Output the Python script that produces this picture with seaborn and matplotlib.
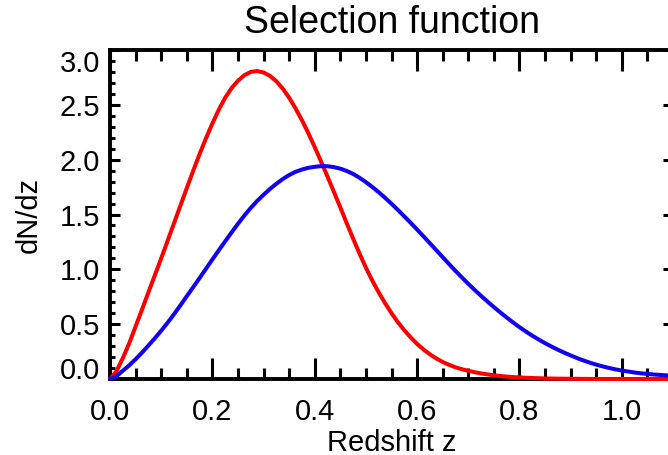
import matplotlib
matplotlib.use("Agg")
import matplotlib.pyplot as plt
import pandas as pd
import seaborn as sns
from matplotlib.ticker import MultipleLocator

# Redshift samples (step 0.0125) and the two selection functions dN/dz
z_grid = [0.0000, 0.0125, 0.0250, 0.0375, 0.0500, 0.0625, 0.0750, 0.0875,
          0.1000, 0.1125, 0.1250, 0.1375, 0.1500, 0.1625, 0.1750, 0.1875,
          0.2000, 0.2125, 0.2250, 0.2375, 0.2500, 0.2625, 0.2750, 0.2875,
          0.3000, 0.3125, 0.3250, 0.3375, 0.3500, 0.3625, 0.3750, 0.3875,
          0.4000, 0.4125, 0.4250, 0.4375, 0.4500, 0.4625, 0.4750, 0.4875,
          0.5000, 0.5125, 0.5250, 0.5375, 0.5500, 0.5625, 0.5750, 0.5875,
          0.6000, 0.6125, 0.6250, 0.6375, 0.6500, 0.6625, 0.6750, 0.6875,
          0.7000, 0.7125, 0.7250, 0.7375, 0.7500, 0.7625, 0.7750, 0.7875,
          0.8000, 0.8125, 0.8250, 0.8375, 0.8500, 0.8625, 0.8750, 0.8875,
          0.9000, 0.9125, 0.9250, 0.9375, 0.9500, 0.9625, 0.9750, 0.9875,
          1.0000, 1.0125, 1.0250, 1.0375, 1.0500, 1.0625, 1.0750, 1.0875,
          1.1000]

dndz_red = [0.000, 0.070, 0.190, 0.325, 0.480, 0.633, 0.790, 0.945,
            1.100, 1.260, 1.420, 1.580, 1.740, 1.898, 2.050, 2.195,
            2.330, 2.455, 2.565, 2.652, 2.720, 2.770, 2.800, 2.808,
            2.795, 2.764, 2.715, 2.648, 2.565, 2.468, 2.360, 2.242,
            2.115, 1.982, 1.845, 1.706, 1.565, 1.421, 1.280, 1.144,
            1.015, 0.897, 0.790, 0.691, 0.600, 0.518, 0.445, 0.379,
            0.320, 0.269, 0.225, 0.187, 0.155, 0.129, 0.107, 0.089,
            0.075, 0.062, 0.051, 0.042, 0.034, 0.0275, 0.022, 0.0177,
            0.014, 0.011, 0.009, 0.007, 0.005, 0.004, 0.003, 0.0025,
            0.002, 0.0015, 0.001, 0.0005, 0.000, 0.000, 0.000, 0.000,
            0.000, 0.000, 0.000, 0.000, 0.000, 0.000, 0.000, 0.000,
            0.000]

dndz_blue = [0.000, 0.025, 0.075, 0.124, 0.180, 0.240, 0.305, 0.371,
             0.440, 0.513, 0.590, 0.671, 0.755, 0.837, 0.920, 1.005,
             1.090, 1.173, 1.255, 1.336, 1.415, 1.490, 1.560, 1.623,
             1.680, 1.7325, 1.780, 1.823, 1.860, 1.889, 1.910, 1.9255,
             1.935, 1.941, 1.940, 1.932, 1.918, 1.897, 1.870, 1.835,
             1.795, 1.751, 1.703, 1.652, 1.598, 1.5415, 1.483, 1.424,
             1.363, 1.301, 1.238, 1.175, 1.111, 1.048, 0.986, 0.926,
             0.868, 0.812, 0.758, 0.706, 0.656, 0.6075, 0.561, 0.516,
             0.473, 0.433, 0.395, 0.360, 0.327, 0.296, 0.267, 0.240,
             0.215, 0.191, 0.169, 0.149, 0.131, 0.115, 0.101, 0.088,
             0.077, 0.068, 0.059, 0.052, 0.046, 0.041, 0.037, 0.033,
             0.030]

x_tick_values = [0.0, 0.2, 0.4, 0.6, 0.8, 1.0]
x_tick_labels = ["0.0", "0.2", "0.4", "0.6", "0.8", "1.0"]
y_tick_values = [0.0, 0.5, 1.0, 1.5, 2.0, 2.5, 3.0]
y_tick_labels = ["0.0", "0.5", "1.0", "1.5", "2.0", "2.5", "3.0"]

sns.set_style("white")
plt.rcParams["font.family"] = ["Liberation Sans", "DejaVu Sans"]
plt.rcParams["text.color"] = "black"
plt.rcParams["axes.labelcolor"] = "black"

fig = plt.figure(figsize=(6.68, 4.55), dpi=100)
# the right-hand frame edge sits just past the figure border
ax = fig.add_axes([110 / 668, 76 / 455, 563 / 668, 329 / 455])

df = pd.DataFrame({"z": z_grid, "red": dndz_red, "blue": dndz_blue})
sns.lineplot(data=df, x="z", y="red", color="#ff0000", lw=2.9, ax=ax,
             zorder=3, clip_on=False, legend=False)
sns.lineplot(data=df, x="z", y="blue", color="#1400f0", lw=2.9, ax=ax,
             zorder=3, clip_on=False, legend=False)
for line in ax.get_lines():
    line.set_solid_capstyle("round")
    line.set_solid_joinstyle("round")

ax.set_xlim(0, 1.1)
ax.set_ylim(0, 3.0)
ax.set_xticks(x_tick_values, x_tick_labels)
ax.set_yticks(y_tick_values, y_tick_labels)
ax.xaxis.set_minor_locator(MultipleLocator(0.05))
ax.yaxis.set_minor_locator(MultipleLocator(0.1))

ax.tick_params(axis="x", which="major", direction="in", length=15, width=2.2,
               bottom=True, top=True, labelsize=21, pad=14, color="black",
               labelcolor="black")
ax.tick_params(axis="x", which="minor", direction="in", length=8, width=2.2,
               bottom=True, top=True, color="black")
ax.tick_params(axis="y", which="major", direction="in", length=7.2, width=2.2,
               left=True, right=True, labelsize=21, pad=7, color="black",
               labelcolor="black")
ax.tick_params(axis="y", which="minor", direction="in", length=3.6, width=2.2,
               left=True, right=True, color="black")

# end labels of the y axis stay inside the frame
yticks = ax.yaxis.get_major_ticks()
yticks[0].label1.set_verticalalignment("baseline")
yticks[-1].label1.set_verticalalignment("top")

for spine in ax.spines.values():
    spine.set_visible(True)
    spine.set_linewidth(2.8)
    spine.set_color("black")

ax.set_title("Selection function", fontsize=27, pad=12, color="black")
ax.set_xlabel("Redshift z", fontsize=21, labelpad=1.5)
ax.set_ylabel("dN/dz", fontsize=21, labelpad=12)

fig.savefig("out.png", dpi=100)
